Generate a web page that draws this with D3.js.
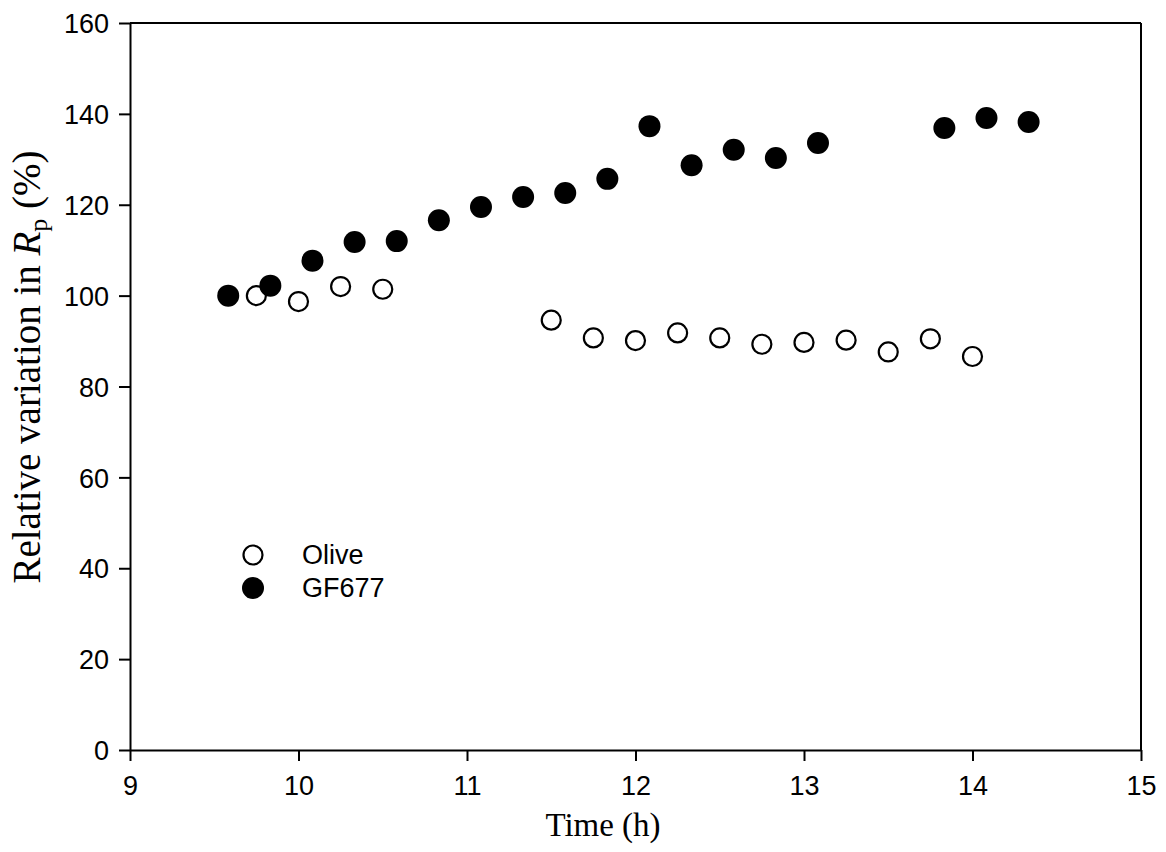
<!DOCTYPE html>
<html>
<head>
<meta charset="utf-8">
<script src="https://cdn.jsdelivr.net/npm/d3@7"></script>
<style>
  body { margin: 0; background: #fff; }
  .tick text { font-family: "Liberation Sans", Arial, sans-serif; font-size: 27px; fill: #000; }
  .domain, .tick line { stroke: #000; stroke-width: 2px; }
</style>
</head>
<body>
<div id="chart"></div>
<script>
var svgWidth = 1166;
var svgHeight = 852;

var margin = { top: 23, right: 25, bottom: 102, left: 130 };
var width = svgWidth - margin.left - margin.right;
var height = svgHeight - margin.top - margin.bottom;

// data
var oliveTime = [9.75, 10.0, 10.25, 10.5, 11.5, 11.75, 12.0, 12.25, 12.5, 12.75, 13.0, 13.25, 13.5, 13.75, 14.0];
var oliveRp = [100.0, 98.7, 102.0, 101.4, 94.6, 90.7, 90.1, 91.8, 90.7, 89.3, 89.7, 90.2, 87.6, 90.5, 86.6];

var gfTime = [9.583, 9.833, 10.083, 10.333, 10.583, 10.833, 11.083, 11.333, 11.583, 11.833,
  12.083, 12.333, 12.583, 12.833, 13.083, 13.833, 14.083, 14.333];
var gfRp = [100.0, 102.2, 107.7, 111.8, 112.0, 116.6, 119.5, 121.7, 122.6, 125.7,
  137.3, 128.7, 132.1, 130.3, 133.6, 136.9, 139.1, 138.2];

var xTicks = [9, 10, 11, 12, 13, 14, 15];
var yTicks = [0, 20, 40, 60, 80, 100, 120, 140, 160];

var legendItems = ["Olive", "GF677"];

var svg = d3.select("#chart")
  .append("svg")
  .attr("width", svgWidth)
  .attr("height", svgHeight);

var chartGroup = svg.append("g")
  .attr("transform", `translate(${margin.left}, ${margin.top})`);

var xScale = d3.scaleLinear().domain([9, 15]).range([0, width]);
var yScale = d3.scaleLinear().domain([0, 160]).range([height, 0]);

// frame: top and right lines
chartGroup.append("line")
  .attr("x1", 0).attr("x2", width).attr("y1", 0).attr("y2", 0)
  .attr("stroke", "#000").attr("stroke-width", 2);
chartGroup.append("line")
  .attr("x1", width).attr("x2", width).attr("y1", 0).attr("y2", height)
  .attr("stroke", "#000").attr("stroke-width", 2);

var bottomAxis = d3.axisBottom(xScale).tickValues(xTicks).tickFormat(d3.format("d"))
  .tickSize(11).tickSizeOuter(0).tickPadding(15);
var leftAxis = d3.axisLeft(yScale).tickValues(yTicks).tickFormat(d3.format("d"))
  .tickSize(11).tickSizeOuter(0).tickPadding(10);

chartGroup.append("g")
  .attr("transform", `translate(0, ${height})`)
  .call(bottomAxis);

chartGroup.append("g")
  .call(leftAxis)
  .selectAll(".tick text").attr("dy", "0.36em");

// Olive: open circles
chartGroup.selectAll(".olive")
  .data(oliveTime)
  .enter()
  .append("circle")
  .attr("class", "olive")
  .attr("cx", d => xScale(d))
  .attr("cy", (d, i) => yScale(oliveRp[i]))
  .attr("r", 9.5)
  .attr("fill", "#fff")
  .attr("stroke", "#000")
  .attr("stroke-width", 2.2);

// GF677: filled circles
chartGroup.selectAll(".gf")
  .data(gfTime)
  .enter()
  .append("circle")
  .attr("class", "gf")
  .attr("cx", d => xScale(d))
  .attr("cy", (d, i) => yScale(gfRp[i]))
  .attr("r", 11)
  .attr("fill", "#000");

// legend
var legend = svg.append("g").attr("transform", "translate(253, 555)");
legendItems.forEach(function(name, i) {
  var g = legend.append("g").attr("transform", `translate(0, ${i * 33})`);
  if (i === 0) {
    g.append("circle").attr("r", 9.5).attr("fill", "#fff").attr("stroke", "#000").attr("stroke-width", 2.2);
  } else {
    g.append("circle").attr("r", 11).attr("fill", "#000");
  }
  g.append("text")
    .attr("x", 49)
    .attr("y", 9)
    .style("font-family", "'Liberation Sans', Arial, sans-serif")
    .style("font-size", "27px")
    .text(name);
});

// axis titles
svg.append("text")
  .attr("x", 603)
  .attr("y", 836)
  .attr("text-anchor", "middle")
  .style("font-family", "'Liberation Serif', 'Times New Roman', serif")
  .style("font-size", "33px")
  .text("Time (h)");

var yTitle = svg.append("text")
  .attr("transform", "translate(40, 367) rotate(-90)")
  .attr("text-anchor", "middle")
  .style("font-family", "'Liberation Serif', 'Times New Roman', serif")
  .style("font-size", "39px");
yTitle.append("tspan").text("Relative variation in ");
yTitle.append("tspan").style("font-style", "italic").text("R");
yTitle.append("tspan").attr("dy", 7).style("font-size", "26px").text("p");
yTitle.append("tspan").attr("dy", -7).text(" (%)");
</script>
</body>
</html>
